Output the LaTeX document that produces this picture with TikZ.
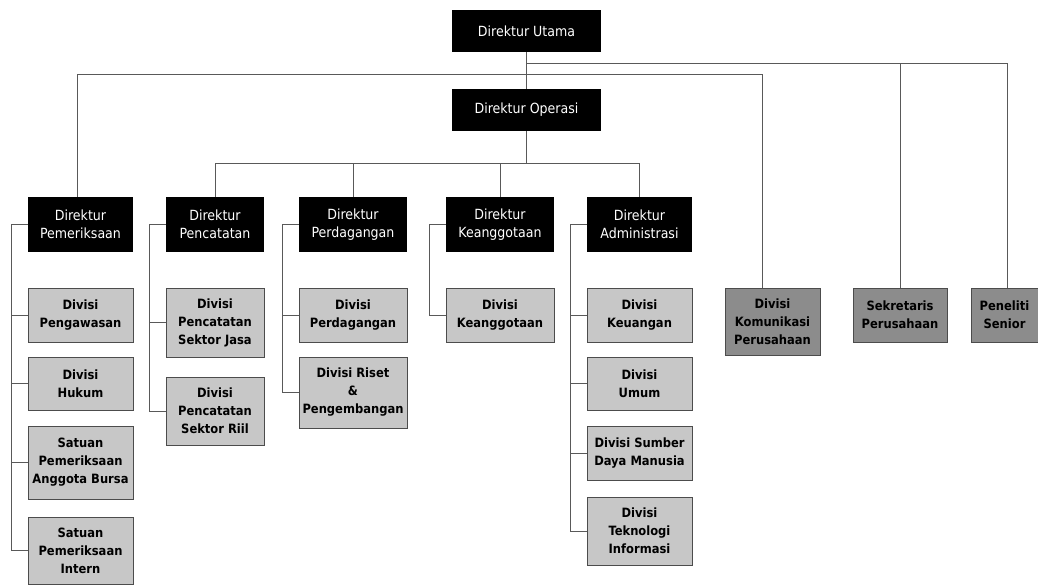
\documentclass[tikz,border=0pt]{standalone}
\usepackage{fontspec}
\setmainfont{DejaVu Sans Condensed}
\usepackage{tikz}

\begin{document}
\begin{tikzpicture}[
    x=1pt, y=-1pt,
    direktur/.style={rectangle, fill=black, text=white, inner sep=1pt, align=center, font=\fontsize{14}{18}\selectfont},
    divisi/.style={rectangle, draw=black!70, fill=black!22, inner sep=1pt, align=center, font=\bfseries\fontsize{12.8}{18}\selectfont},
    staf/.style={divisi, fill=black!45},
    garis/.style={draw=black!65, line width=0.7pt}
]
\useasboundingbox (0,0) rectangle (1038,585);

% Direksi
\node[direktur, minimum width=149, minimum height=42] (utama) at (526.5,31) {Direktur Utama};
\node[direktur, minimum width=149, minimum height=42] (operasi) at (526.5,110) {Direktur Operasi};

% Direktur
\node[direktur, minimum width=105, minimum height=55] (pem) at (80.5,224.5) {Direktur\\Pemeriksaan};
\node[direktur, minimum width=98, minimum height=55] (penc) at (215,224.5) {Direktur\\Pencatatan};
\node[direktur, minimum width=108, minimum height=55] (perd) at (353,224.5) {Direktur\\Perdagangan};
\node[direktur, minimum width=108, minimum height=55] (keang) at (500,224.5) {Direktur\\Keanggotaan};
\node[direktur, minimum width=105, minimum height=55] (adm) at (639.5,224.5) {Direktur\\Administrasi};

% Divisi di bawah Pemeriksaan
\node[divisi, minimum width=105, minimum height=54] (pem1) at (80.5,315) {Divisi\\Pengawasan};
\node[divisi, minimum width=105, minimum height=53] (pem2) at (80.5,383.5) {Divisi\\Hukum};
\node[divisi, minimum width=105, minimum height=73] (pem3) at (80.5,462.5) {Satuan\\Pemeriksaan\\Anggota Bursa};
\node[divisi, minimum width=105, minimum height=67] (pem4) at (80.5,550.5) {Satuan\\Pemeriksaan\\Intern};

% Divisi di bawah Pencatatan
\node[divisi, minimum width=98, minimum height=69] (penc1) at (215,322.5) {Divisi\\Pencatatan\\Sektor Jasa};
\node[divisi, minimum width=98, minimum height=68] (penc2) at (215,411) {Divisi\\Pencatatan\\Sektor Riil};

% Divisi di bawah Perdagangan
\node[divisi, minimum width=108, minimum height=54] (perd1) at (353,315) {Divisi\\Perdagangan};
\node[divisi, minimum width=108, minimum height=71] (perd2) at (353,392.5) {Divisi Riset\\\&\\Pengembangan};

% Divisi di bawah Keanggotaan
\node[divisi, minimum width=108, minimum height=54] (keang1) at (500,315) {Divisi\\Keanggotaan};

% Divisi di bawah Administrasi
\node[divisi, minimum width=105, minimum height=54] (adm1) at (639.5,315) {Divisi\\Keuangan};
\node[divisi, minimum width=105, minimum height=53] (adm2) at (639.5,383.5) {Divisi\\Umum};
\node[divisi, minimum width=105, minimum height=54] (adm3) at (639.5,453) {Divisi Sumber\\Daya Manusia};
\node[divisi, minimum width=105, minimum height=68] (adm4) at (639.5,531) {Divisi\\Teknologi\\Informasi};

% Staf Direktur Utama
\node[staf, minimum width=95, minimum height=67] (kom) at (772.5,321.5) {Divisi\\Komunikasi\\Perusahaan};
\node[staf, minimum width=94, minimum height=54] (sek) at (900,315) {Sekretaris\\Perusahaan};
\node[staf, minimum width=67, minimum height=54] (pen) at (1004.5,315) {Peneliti\\Senior};

% Garis
\coordinate (j1) at (526.5,63);
\coordinate (j2) at (526.5,74);
\coordinate (j3) at (526.5,163);

\draw[garis] (utama.south) -- (operasi.north);
\draw[garis] (j1) -| (sek.north);
\draw[garis] (j1) -| ([xshift=3pt]pen.north);
\draw[garis] (j2) -| ([xshift=-3pt]pem.north);
\draw[garis] (j2) -| ([xshift=-10pt]kom.north);
\draw[garis] (operasi.south) -- (j3);
\foreach \d in {penc,perd,keang,adm}
    \draw[garis] (j3) -| (\d.north);

\foreach \d/\n in {pem/4, penc/2, perd/2, keang/1, adm/4}
    \foreach \i in {1,...,\n}
        \draw[garis] (\d.west) -- ++(-16,0) |- (\d\i.west);

\end{tikzpicture}
\end{document}
